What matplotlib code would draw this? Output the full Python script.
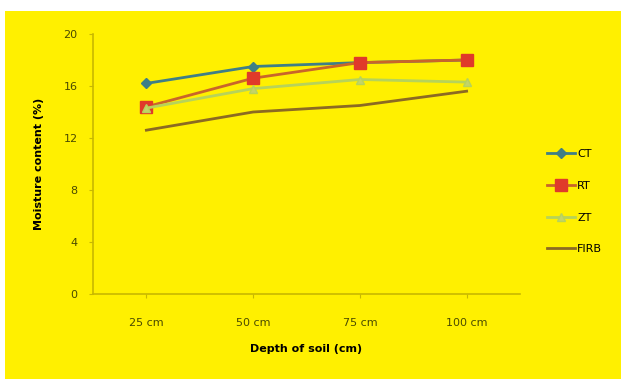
import matplotlib.pyplot as plt
from matplotlib.patches import Rectangle

depths = ["25 cm", "50 cm", "75 cm", "100 cm"]
ct = [16.2, 17.5, 17.8, 18.0]
rt = [14.4, 16.6, 17.8, 18.0]
zt = [14.3, 15.8, 16.5, 16.3]
firb = [12.6, 14.0, 14.5, 15.6]

bg = "#fff000"
axis_col = "#c8b800"

fig = plt.figure(figsize=(6.21, 3.79), dpi=100)
fig.patch.set_facecolor("white")
fig.add_artist(Rectangle((5 / 621, 0), 1, (379 - 11) / 379,
                         transform=fig.transFigure, facecolor=bg,
                         edgecolor="none", zorder=-10))

ax = fig.add_axes([93 / 621, 1 - 294 / 379, 427 / 621, 260 / 379])
ax.set_facecolor(bg)

x = range(len(depths))
ax.plot(x, ct, color="#3f7f86", marker="D", markersize=5, lw=2, label="CT")
ax.plot(x, rt, color="#c9652a", marker="s", markersize=8, lw=2,
        markerfacecolor="#e03a2a", markeredgecolor="#e03a2a", label="RT")
ax.plot(x, zt, color="#b7d35a", marker="^", markersize=6, lw=2,
        markerfacecolor="#c4d46a", label="ZT")
ax.plot(x, firb, color="#8c6a22", lw=2, label="FIRB")

ax.set_xlim(-0.5, 3.5)
ax.set_ylim(0, 20)
ax.set_yticks(range(0, 21, 4))
ax.set_xticks(list(x))
ax.set_xticklabels(depths)
ax.tick_params(labelsize=8, colors="#4a4a00", length=3, color=axis_col)
ax.tick_params(axis="x", pad=14)
ax.tick_params(axis="y", pad=8)

for s in ["top", "right"]:
    ax.spines[s].set_visible(False)
for s in ["left", "bottom"]:
    ax.spines[s].set_color(axis_col)
    ax.spines[s].set_linewidth(1.2)

ax.set_xlabel("Depth of soil (cm)", fontsize=8, fontweight="bold", labelpad=12)
ax.set_ylabel("Moisture content (%)", fontsize=8, fontweight="bold", labelpad=14)

ax.legend(loc="center left", bbox_to_anchor=(1.04, 0.355), frameon=False,
          fontsize=8, handlelength=2.5, labelspacing=1.95, handletextpad=0.2)

fig.savefig("out.png", dpi=100, facecolor=fig.get_facecolor())
